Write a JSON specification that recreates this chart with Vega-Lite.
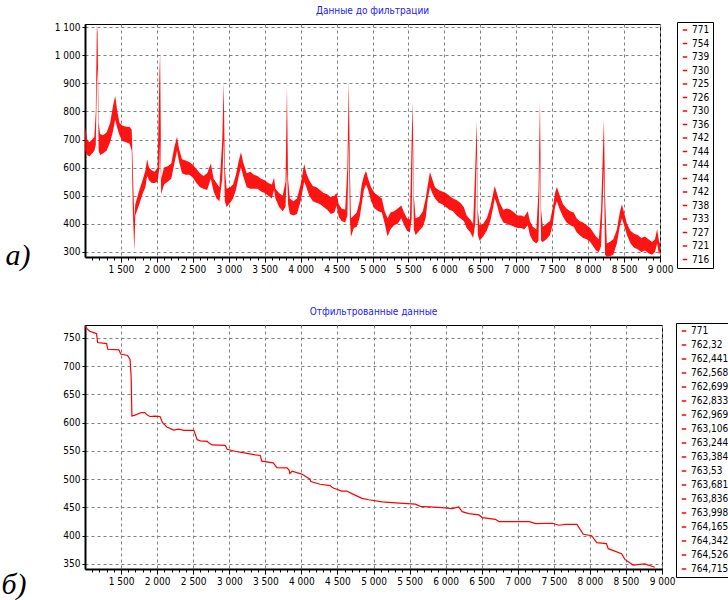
{
  "$schema": "https://vega.github.io/schema/vega-lite/v6.json",
  "background": "white",
  "padding": {"left": 0, "top": 5, "right": 0, "bottom": 0},
  "spacing": 31,
  "config": {
    "view": {"stroke": "#000", "strokeWidth": 1},
    "font": "Liberation Sans Narrow, Arial Narrow, DejaVu Sans Condensed, sans-serif",
    "axis": {
      "labelFont": "Liberation Sans Narrow, Arial Narrow, DejaVu Sans Condensed, sans-serif",
      "labelFontSize": 10,
      "labelColor": "#000",
      "domainColor": "#000",
      "domainWidth": 2,
      "tickColor": "#000",
      "tickWidth": 1,
      "gridColor": "#808080",
      "gridDash": [3, 3],
      "gridWidth": 1,
      "labelOverlap": false,
      "labelFlush": false,
      "titleFont": "Liberation Serif",
      "titleFontStyle": "italic",
      "titleFontWeight": "normal",
      "titleFontSize": 30,
      "titleColor": "#000"
    },
    "legend": {
      "orient": "none",
      "strokeColor": "#000",
      "fillColor": "#fff",
      "padding": 3,
      "symbolType": "stroke",
      "symbolSize": 20,
      "symbolStrokeWidth": 1.5,
      "symbolStrokeColor": "#ff0000",
      "symbolOpacity": 1,
      "labelFont": "Liberation Sans Narrow, Arial Narrow, DejaVu Sans Condensed, sans-serif",
      "labelFontSize": 10,
      "labelColor": "#000",
      "labelOffset": 2,
      "rowPadding": 3.5
    },
    "title": {
      "font": "Liberation Sans Narrow, Arial Narrow, DejaVu Sans Condensed, sans-serif",
      "fontSize": 10,
      "fontWeight": "normal",
      "color": "#2020ff",
      "anchor": "middle",
      "offset": 6
    }
  },
  "resolve": {"scale": {"color": "independent", "x": "independent", "y": "independent"}, "legend": {"color": "independent"}},
  "vconcat": [
    {
      "title": "Данные до фильтрации",
      "width": 575,
      "height": 233,
      "layer": [
        {
          "data": {"values": [
            {"x":1000,"lo":660,"hi":745},{"x":1030,"lo":645,"hi":700},{"x":1060,"lo":640,"hi":690},{"x":1100,"lo":650,"hi":700},{"x":1130,"lo":660,"hi":710},{"x":1150,"lo":680,"hi":800},{"x":1165,"lo":900,"hi":1105},{"x":1175,"lo":950,"hi":1080},{"x":1190,"lo":660,"hi":760},{"x":1210,"lo":645,"hi":720},{"x":1250,"lo":650,"hi":715},{"x":1300,"lo":660,"hi":725},{"x":1350,"lo":690,"hi":760},{"x":1390,"lo":730,"hi":820},{"x":1420,"lo":770,"hi":855},{"x":1450,"lo":740,"hi":800},{"x":1480,"lo":715,"hi":760},{"x":1520,"lo":695,"hi":750},{"x":1570,"lo":690,"hi":745},{"x":1620,"lo":685,"hi":745},{"x":1650,"lo":660,"hi":735},{"x":1665,"lo":450,"hi":600},{"x":1686,"lo":303,"hi":420},{"x":1700,"lo":430,"hi":470},{"x":1750,"lo":465,"hi":515},{"x":1800,"lo":505,"hi":555},{"x":1840,"lo":530,"hi":590},{"x":1865,"lo":570,"hi":630},{"x":1890,"lo":555,"hi":600},{"x":1930,"lo":545,"hi":590},{"x":1970,"lo":545,"hi":585},{"x":2010,"lo":550,"hi":600},{"x":2035,"lo":600,"hi":930},{"x":2045,"lo":700,"hi":1010},{"x":2060,"lo":505,"hi":560},{"x":2100,"lo":540,"hi":600},{"x":2150,"lo":550,"hi":605},{"x":2200,"lo":560,"hi":615},{"x":2240,"lo":610,"hi":670},{"x":2280,"lo":660,"hi":710},{"x":2310,"lo":620,"hi":665},{"x":2350,"lo":580,"hi":630},{"x":2400,"lo":575,"hi":625},{"x":2450,"lo":575,"hi":620},{"x":2500,"lo":565,"hi":610},{"x":2550,"lo":545,"hi":595},{"x":2600,"lo":530,"hi":580},{"x":2650,"lo":525,"hi":570},{"x":2700,"lo":520,"hi":580},{"x":2750,"lo":560,"hi":615},{"x":2790,"lo":515,"hi":560},{"x":2830,"lo":490,"hi":545},{"x":2870,"lo":480,"hi":530},{"x":2910,"lo":560,"hi":700},{"x":2930,"lo":700,"hi":905},{"x":2945,"lo":480,"hi":600},{"x":2970,"lo":460,"hi":525},{"x":3020,"lo":475,"hi":530},{"x":3060,"lo":490,"hi":540},{"x":3100,"lo":520,"hi":575},{"x":3140,"lo":570,"hi":625},{"x":3170,"lo":600,"hi":655},{"x":3200,"lo":570,"hi":620},{"x":3250,"lo":530,"hi":580},{"x":3300,"lo":525,"hi":585},{"x":3350,"lo":525,"hi":575},{"x":3400,"lo":525,"hi":570},{"x":3450,"lo":515,"hi":560},{"x":3500,"lo":510,"hi":555},{"x":3550,"lo":500,"hi":545},{"x":3600,"lo":490,"hi":540},{"x":3630,"lo":520,"hi":565},{"x":3650,"lo":490,"hi":525},{"x":3700,"lo":460,"hi":510},{"x":3750,"lo":445,"hi":500},{"x":3790,"lo":460,"hi":550},{"x":3810,"lo":600,"hi":887},{"x":3825,"lo":470,"hi":560},{"x":3850,"lo":435,"hi":490},{"x":3900,"lo":430,"hi":480},{"x":3950,"lo":435,"hi":490},{"x":4000,"lo":480,"hi":540},{"x":4050,"lo":550,"hi":613},{"x":4080,"lo":530,"hi":580},{"x":4120,"lo":500,"hi":555},{"x":4170,"lo":480,"hi":535},{"x":4220,"lo":475,"hi":530},{"x":4270,"lo":470,"hi":520},{"x":4320,"lo":460,"hi":510},{"x":4370,"lo":450,"hi":505},{"x":4420,"lo":435,"hi":495},{"x":4470,"lo":440,"hi":500},{"x":4500,"lo":465,"hi":510},{"x":4530,"lo":425,"hi":470},{"x":4570,"lo":410,"hi":455},{"x":4620,"lo":405,"hi":450},{"x":4650,"lo":430,"hi":600},{"x":4670,"lo":700,"hi":908},{"x":4685,"lo":420,"hi":600},{"x":4700,"lo":353,"hi":420},{"x":4740,"lo":385,"hi":430},{"x":4780,"lo":390,"hi":440},{"x":4820,"lo":420,"hi":480},{"x":4850,"lo":470,"hi":540},{"x":4880,"lo":520,"hi":570},{"x":4910,"lo":540,"hi":588},{"x":4940,"lo":520,"hi":560},{"x":4980,"lo":480,"hi":530},{"x":5030,"lo":455,"hi":510},{"x":5080,"lo":445,"hi":500},{"x":5130,"lo":440,"hi":490},{"x":5170,"lo":400,"hi":445},{"x":5210,"lo":355,"hi":420},{"x":5250,"lo":380,"hi":440},{"x":5300,"lo":395,"hi":445},{"x":5350,"lo":400,"hi":455},{"x":5400,"lo":420,"hi":465},{"x":5440,"lo":395,"hi":440},{"x":5480,"lo":375,"hi":420},{"x":5520,"lo":370,"hi":415},{"x":5545,"lo":420,"hi":700},{"x":5560,"lo":700,"hi":833},{"x":5575,"lo":380,"hi":500},{"x":5600,"lo":360,"hi":420},{"x":5650,"lo":375,"hi":425},{"x":5700,"lo":390,"hi":445},{"x":5740,"lo":420,"hi":490},{"x":5770,"lo":490,"hi":540},{"x":5800,"lo":530,"hi":584},{"x":5830,"lo":510,"hi":560},{"x":5870,"lo":490,"hi":530},{"x":5920,"lo":475,"hi":520},{"x":5970,"lo":470,"hi":515},{"x":6020,"lo":460,"hi":510},{"x":6070,"lo":450,"hi":500},{"x":6120,"lo":445,"hi":490},{"x":6170,"lo":430,"hi":485},{"x":6220,"lo":420,"hi":475},{"x":6270,"lo":410,"hi":460},{"x":6310,"lo":385,"hi":430},{"x":6360,"lo":370,"hi":415},{"x":6400,"lo":350,"hi":400},{"x":6430,"lo":400,"hi":600},{"x":6450,"lo":650,"hi":766},{"x":6465,"lo":360,"hi":450},{"x":6490,"lo":340,"hi":395},{"x":6540,"lo":355,"hi":400},{"x":6590,"lo":375,"hi":420},{"x":6640,"lo":410,"hi":460},{"x":6680,"lo":460,"hi":510},{"x":6700,"lo":490,"hi":535},{"x":6730,"lo":470,"hi":510},{"x":6770,"lo":430,"hi":475},{"x":6820,"lo":405,"hi":450},{"x":6870,"lo":400,"hi":455},{"x":6920,"lo":395,"hi":450},{"x":6970,"lo":390,"hi":440},{"x":7020,"lo":385,"hi":430},{"x":7070,"lo":385,"hi":430},{"x":7110,"lo":380,"hi":425},{"x":7160,"lo":395,"hi":445},{"x":7190,"lo":360,"hi":410},{"x":7230,"lo":340,"hi":390},{"x":7280,"lo":330,"hi":380},{"x":7310,"lo":340,"hi":520},{"x":7330,"lo":650,"hi":837},{"x":7345,"lo":340,"hi":450},{"x":7370,"lo":335,"hi":390},{"x":7420,"lo":345,"hi":400},{"x":7470,"lo":360,"hi":410},{"x":7510,"lo":400,"hi":460},{"x":7540,"lo":460,"hi":510},{"x":7565,"lo":480,"hi":531},{"x":7600,"lo":455,"hi":505},{"x":7650,"lo":425,"hi":470},{"x":7700,"lo":405,"hi":455},{"x":7750,"lo":395,"hi":445},{"x":7800,"lo":390,"hi":440},{"x":7840,"lo":370,"hi":420},{"x":7880,"lo":360,"hi":410},{"x":7930,"lo":350,"hi":405},{"x":7980,"lo":345,"hi":395},{"x":8030,"lo":335,"hi":385},{"x":8070,"lo":320,"hi":370},{"x":8110,"lo":305,"hi":355},{"x":8150,"lo":300,"hi":345},{"x":8180,"lo":320,"hi":450},{"x":8220,"lo":600,"hi":773},{"x":8235,"lo":290,"hi":500},{"x":8260,"lo":282,"hi":330},{"x":8300,"lo":285,"hi":335},{"x":8350,"lo":290,"hi":345},{"x":8400,"lo":330,"hi":380},{"x":8440,"lo":390,"hi":440},{"x":8470,"lo":420,"hi":470},{"x":8500,"lo":395,"hi":440},{"x":8540,"lo":360,"hi":400},{"x":8590,"lo":330,"hi":375},{"x":8640,"lo":315,"hi":365},{"x":8690,"lo":310,"hi":360},{"x":8740,"lo":300,"hi":350},{"x":8790,"lo":305,"hi":355},{"x":8840,"lo":295,"hi":345},{"x":8890,"lo":290,"hi":335},{"x":8930,"lo":300,"hi":345},{"x":8960,"lo":330,"hi":382},{"x":8985,"lo":290,"hi":340},{"x":9000,"lo":300,"hi":330}
          ]},
          "mark": {"type": "area", "color": "#ff0000", "opacity": 0.92, "clip": true},
          "encoding": {
            "x": {
              "field": "x", "type": "quantitative",
              "scale": {"domain": [1000, 9000], "nice": false, "zero": false},
              "axis": {
                "title": null,
                "values": [1100,1200,1300,1400,1500,1600,1700,1800,1900,2000,2100,2200,2300,2400,2500,2600,2700,2800,2900,3000,3100,3200,3300,3400,3500,3600,3700,3800,3900,4000,4100,4200,4300,4400,4500,4600,4700,4800,4900,5000,5100,5200,5300,5400,5500,5600,5700,5800,5900,6000,6100,6200,6300,6400,6500,6600,6700,6800,6900,7000,7100,7200,7300,7400,7500,7600,7700,7800,7900,8000,8100,8200,8300,8400,8500,8600,8700,8800,8900,9000],
                "labelExpr": "datum.value % 500 === 0 ? replace(format(datum.value, ','), ',', ' ') : ''",
                "tickSize": {"condition": {"test": "datum.value % 500 === 0", "value": 5}, "value": 3},
                "gridOpacity": {"condition": {"test": "datum.value % 500 === 0", "value": 1}, "value": 0},
                "labelPadding": 2
              }
            },
            "y": {
              "field": "lo", "type": "quantitative",
              "scale": {"domain": [282, 1111], "nice": false, "zero": false},
              "axis": {
                "title": "а)",
                "titleAngle": 0, "titleAlign": "left", "titleBaseline": "alphabetic",
                "titleX": -80, "titleY": 240,
                "values": [300,400,500,600,700,800,900,1000,1100],
                "labelExpr": "replace(format(datum.value, ','), ',', ' ')",
                "tickSize": 3, "labelPadding": 2
              }
            },
            "y2": {"field": "hi"}
          }
        },
        {
          "data": {"values": [
            {"k":"01|771"},{"k":"02|754"},{"k":"03|739"},{"k":"04|730"},{"k":"05|725"},{"k":"06|726"},{"k":"07|730"},{"k":"08|736"},{"k":"09|742"},{"k":"10|744"},{"k":"11|744"},{"k":"12|744"},{"k":"13|742"},{"k":"14|738"},{"k":"15|733"},{"k":"16|727"},{"k":"17|721"},{"k":"18|716"}
          ]},
          "mark": {"type": "point", "size": 0, "opacity": 0},
          "encoding": {
            "color": {
              "field": "k", "type": "nominal",
              "scale": {"domain": ["01|771","02|754","03|739","04|730","05|725","06|726","07|730","08|736","09|742","10|744","11|744","12|744","13|742","14|738","15|733","16|727","17|721","18|716"],
                        "range": ["#ff0000","#ff0000","#ff0000","#ff0000","#ff0000","#ff0000","#ff0000","#ff0000","#ff0000","#ff0000","#ff0000","#ff0000","#ff0000","#ff0000","#ff0000","#ff0000","#ff0000","#ff0000"]},
              "legend": {"title": null, "legendX": 592, "legendY": -2, "labelExpr": "split(datum.label, '|')[1]", "symbolOpacity": 1}
            }
          }
        }
      ]
    },
    {
      "title": "Отфильтрованные данные",
      "width": 577,
      "height": 244,
      "layer": [
        {
          "data": {"values": [
            {"x":1000,"v":771},{"x":1030,"v":766},{"x":1065,"v":762},{"x":1130,"v":759},{"x":1160,"v":757.6},{"x":1175,"v":742},{"x":1300,"v":740},{"x":1315,"v":730},{"x":1470,"v":729},{"x":1495,"v":721.5},{"x":1590,"v":719},{"x":1625,"v":712},{"x":1640,"v":680},{"x":1650,"v":612},{"x":1685,"v":613},{"x":1780,"v":618},{"x":1830,"v":618},{"x":1860,"v":614},{"x":1900,"v":611},{"x":1970,"v":611.5},{"x":2040,"v":611},{"x":2075,"v":600},{"x":2135,"v":592.5},{"x":2230,"v":587},{"x":2300,"v":588.5},{"x":2370,"v":586.5},{"x":2510,"v":586.5},{"x":2555,"v":570},{"x":2600,"v":568},{"x":2695,"v":567},{"x":2710,"v":565},{"x":2760,"v":560.6},{"x":2945,"v":560},{"x":2970,"v":553},{"x":3090,"v":549},{"x":3230,"v":546},{"x":3360,"v":543},{"x":3430,"v":542},{"x":3450,"v":532},{"x":3610,"v":529},{"x":3660,"v":520.5},{"x":3800,"v":520},{"x":3830,"v":516},{"x":3840,"v":510},{"x":3870,"v":514},{"x":4005,"v":509},{"x":4120,"v":500},{"x":4130,"v":496},{"x":4260,"v":491},{"x":4400,"v":488.5},{"x":4420,"v":486},{"x":4450,"v":484},{"x":4560,"v":479},{"x":4630,"v":479},{"x":4700,"v":474.5},{"x":4840,"v":466},{"x":4935,"v":463.6},{"x":5120,"v":460},{"x":5305,"v":458},{"x":5580,"v":455.7},{"x":5650,"v":452},{"x":5950,"v":449.7},{"x":6090,"v":448},{"x":6180,"v":451},{"x":6230,"v":442.6},{"x":6320,"v":439},{"x":6460,"v":436.7},{"x":6510,"v":432},{"x":6690,"v":429},{"x":6740,"v":425},{"x":7160,"v":425},{"x":7250,"v":421.4},{"x":7480,"v":422},{"x":7570,"v":418.5},{"x":7660,"v":420},{"x":7820,"v":420},{"x":7910,"v":402.5},{"x":8025,"v":400},{"x":8095,"v":387.7},{"x":8230,"v":386},{"x":8255,"v":377},{"x":8440,"v":368},{"x":8485,"v":358},{"x":8600,"v":348},{"x":8760,"v":350},{"x":8900,"v":344}
          ]},
          "mark": {"type": "line", "color": "#ff0000", "strokeWidth": 1.2, "clip": true},
          "encoding": {
            "x": {
              "field": "x", "type": "quantitative",
              "scale": {"domain": [1000, 9000], "nice": false, "zero": false},
              "axis": {
                "title": null,
                "values": [1100,1200,1300,1400,1500,1600,1700,1800,1900,2000,2100,2200,2300,2400,2500,2600,2700,2800,2900,3000,3100,3200,3300,3400,3500,3600,3700,3800,3900,4000,4100,4200,4300,4400,4500,4600,4700,4800,4900,5000,5100,5200,5300,5400,5500,5600,5700,5800,5900,6000,6100,6200,6300,6400,6500,6600,6700,6800,6900,7000,7100,7200,7300,7400,7500,7600,7700,7800,7900,8000,8100,8200,8300,8400,8500,8600,8700,8800,8900,9000],
                "labelExpr": "datum.value % 500 === 0 ? replace(format(datum.value, ','), ',', ' ') : ''",
                "tickSize": {"condition": {"test": "datum.value % 500 === 0", "value": 5}, "value": 3},
                "gridOpacity": {"condition": {"test": "datum.value % 500 === 0", "value": 1}, "value": 0},
                "labelPadding": 2
              }
            },
            "y": {
              "field": "v", "type": "quantitative",
              "scale": {"domain": [341, 773], "nice": false, "zero": false},
              "axis": {
                "title": "б)",
                "titleAngle": 0, "titleAlign": "left", "titleBaseline": "alphabetic",
                "titleX": -84, "titleY": 268,
                "values": [350,400,450,500,550,600,650,700,750],
                "tickSize": 3, "labelPadding": 2
              }
            }
          }
        },
        {
          "data": {"values": [
            {"k":"01|771"},{"k":"02|762,32"},{"k":"03|762,441"},{"k":"04|762,568"},{"k":"05|762,699"},{"k":"06|762,833"},{"k":"07|762,969"},{"k":"08|763,106"},{"k":"09|763,244"},{"k":"10|763,384"},{"k":"11|763,53"},{"k":"12|763,681"},{"k":"13|763,836"},{"k":"14|763,998"},{"k":"15|764,165"},{"k":"16|764,342"},{"k":"17|764,526"},{"k":"18|764,715"}
          ]},
          "mark": {"type": "point", "size": 0, "opacity": 0},
          "encoding": {
            "color": {
              "field": "k", "type": "nominal",
              "scale": {"domain": ["01|771","02|762,32","03|762,441","04|762,568","05|762,699","06|762,833","07|762,969","08|763,106","09|763,244","10|763,384","11|763,53","12|763,681","13|763,836","14|763,998","15|764,165","16|764,342","17|764,526","18|764,715"],
                        "range": ["#ff0000","#ff0000","#ff0000","#ff0000","#ff0000","#ff0000","#ff0000","#ff0000","#ff0000","#ff0000","#ff0000","#ff0000","#ff0000","#ff0000","#ff0000","#ff0000","#ff0000","#ff0000"]},
              "legend": {"title": null, "legendX": 591, "legendY": -2, "labelExpr": "split(datum.label, '|')[1]", "symbolOpacity": 1, "rowPadding": 4}
            }
          }
        }
      ]
    }
  ]
}
